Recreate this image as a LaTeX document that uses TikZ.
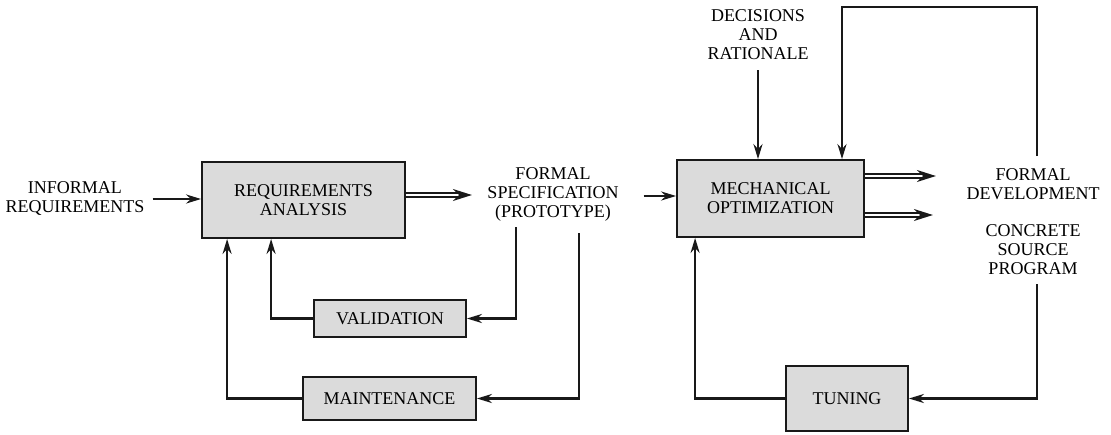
\documentclass[tikz,border=0pt]{standalone}
\usepackage{fontspec}
\setmainfont{Liberation Serif}
\usetikzlibrary{arrows.meta}
\begin{document}
\begin{tikzpicture}[x=1pt,y=-1pt,
  lbl/.style={align=center,font=\fontsize{18}{19}\selectfont,inner sep=0pt},
  blk/.style={draw=black!90,line width=1.8pt,fill=black!14,inner sep=0pt,align=center,font=\fontsize{18}{19}\selectfont},
  arr/.style={draw=black!90,line width=2.4pt,-{Stealth[length=15pt,width=9pt]}},
  dbl/.style={draw=black!90,line width=1.6pt,double=white,double distance=2.8pt,-{Stealth[length=19pt,width=12pt]}}
]
\useasboundingbox (0,0) rectangle (1111,434);

% text nodes
\node[lbl] (inf) at (75,198) {INFORMAL\\REQUIREMENTS};
\node[lbl] (spec) at (553,194) {FORMAL\\SPECIFICATION\\(PROTOTYPE)};
\node[lbl] (dec) at (758,35) {DECISIONS\\AND\\RATIONALE};
\node[lbl] (fd) at (1033,184) {FORMAL\\DEVELOPMENT};
\node[lbl] (csp) at (1033,250) {CONCRETE\\SOURCE\\PROGRAM};

% boxes
\node[blk,minimum width=203pt,minimum height=76pt] (ra) at (303.5,200) {REQUIREMENTS\\ANALYSIS};
\node[blk,minimum width=187pt,minimum height=77pt] (mo) at (770.5,198.5) {MECHANICAL\\OPTIMIZATION};
\node[blk,minimum width=152pt,minimum height=37pt] (val) at (390,318.5) {VALIDATION};
\node[blk,minimum width=173pt,minimum height=43pt] (mnt) at (389.5,398.5) {MAINTENANCE};
\node[blk,minimum width=122pt,minimum height=65pt] (tun) at (847,398.5) {TUNING};

\coordinate (topc) at (842,7);

% connectors
\draw[arr] ([xshift=8pt,yshift=-1pt]inf.east) -- ([yshift=-1pt]inf.east -| ra.west);
\draw[dbl] ([yshift=5pt]ra.east) -- ++(66,0);
\draw[arr] ([xshift=25pt,yshift=-2pt]spec.east) -- ([yshift=-2pt]spec.east -| mo.west);
\draw[arr] ([yshift=-10pt]dec.south) -- (dec.south |- mo.north);
\draw[arr] ([xshift=4pt,yshift=12pt]fd.north) |- (topc) -- (topc |- mo.north);
\draw[dbl] ([yshift=22.5pt]mo.east) -- ++(71,0);
\draw[dbl] ([yshift=-16.5pt]mo.east) -- ++(68,0);
\draw[arr] ([xshift=4pt,yshift=-9pt]csp.south) |- (tun.east);
\draw[arr] (tun.west) -| ([xshift=19pt]mo.south west);
\draw[arr] ([xshift=-37pt,yshift=-6pt]spec.south) |- (val.east);
\draw[arr] ([xshift=26pt,yshift=-12pt]spec.south) |- (mnt.east);
\draw[arr] (val.west) -| ([xshift=70pt]ra.south west);
\draw[arr] (mnt.west) -| ([xshift=26pt]ra.south west);
\end{tikzpicture}
\end{document}
